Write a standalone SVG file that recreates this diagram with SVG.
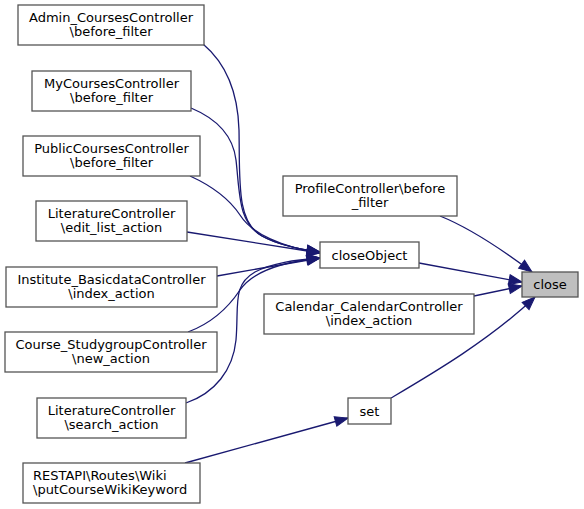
<svg xmlns="http://www.w3.org/2000/svg" width="584" height="509" viewBox="0 0 584 509">
<defs>
<style>
.n rect{fill:#fff;stroke:#555;stroke-width:1.3}
.n.cur rect{fill:#bfbfbf}
.n text{font-family:"DejaVu Sans",sans-serif;font-size:13px;fill:#000;text-anchor:middle}
.n text.l{text-anchor:start}
.e path{fill:none;stroke:#191970;stroke-width:1.3}
</style>
<marker id="ah" markerUnits="userSpaceOnUse" markerWidth="13" markerHeight="10" refX="13" refY="5" orient="auto" overflow="visible">
<path d="M0,0 L13,5 L0,10 z" fill="#191970" stroke="#191970" stroke-width="1"/>
</marker>
</defs>
<rect width="584" height="509" fill="#fff"/>
<g class="e" id="edges">
<path marker-end="url(#ah)" d="M203,44 C228,65 238,95 239,130 C240,180 236,222 262,236 C278,245 298,249 320,252"/>
<path marker-end="url(#ah)" d="M191,108 C215,118 233,135 236,160 C240,195 238,222 262,236 C278,245 298,249 320,252"/>
<path marker-end="url(#ah)" d="M190,176 C212,186 230,200 240,215 C252,234 282,247 320,253"/>
<path marker-end="url(#ah)" d="M187,232 L320,253"/>
<path marker-end="url(#ah)" d="M217,276 L320,258"/>
<path marker-end="url(#ah)" d="M188,332 C215,322 230,305 240,290 C252,272 282,262 320,258"/>
<path marker-end="url(#ah)" d="M186,403 C215,393 233,370 236,340 C239,305 232,285 255,272 C272,263 295,260 320,258"/>
<path marker-end="url(#ah)" d="M419,263 L522,282"/>
<path marker-end="url(#ah)" d="M440,216 C470,228 500,248 532,272"/>
<path marker-end="url(#ah)" d="M474,296 L522,286"/>
<path marker-end="url(#ah)" d="M391,398 C430,375 490,340 535,297"/>
<path marker-end="url(#ah)" d="M185,463 L348,418"/>
</g>
<g class="n" id="n_admin"><rect x="18" y="5" width="186" height="40"/><text x="111" y="21.5">Admin_CoursesController</text><text x="111" y="36">\before_filter</text></g>
<g class="n" id="n_mycourses"><rect x="32" y="71" width="159" height="40"/><text x="111.5" y="87.5">MyCoursesController</text><text x="111.5" y="102">\before_filter</text></g>
<g class="n" id="n_public"><rect x="23" y="136" width="177" height="40"/><text x="111.5" y="152.5">PublicCoursesController</text><text x="111.5" y="167">\before_filter</text></g>
<g class="n" id="n_litedit"><rect x="36" y="201" width="151" height="40"/><text x="111.5" y="217.5">LiteratureController</text><text x="111.5" y="232">\edit_list_action</text></g>
<g class="n" id="n_institute"><rect x="6" y="267" width="211" height="40"/><text x="111.5" y="283.5">Institute_BasicdataController</text><text x="111.5" y="298">\index_action</text></g>
<g class="n" id="n_studygroup"><rect x="5" y="332" width="212" height="40"/><text x="111" y="348.5">Course_StudygroupController</text><text x="111" y="363">\new_action</text></g>
<g class="n" id="n_litsearch"><rect x="37" y="398" width="149" height="40"/><text x="111.5" y="414.5">LiteratureController</text><text x="111.5" y="429">\search_action</text></g>
<g class="n" id="n_restapi"><rect x="23" y="463" width="177" height="40"/><text class="l" x="33" y="479.5">RESTAPI\Routes\Wiki</text><text class="l" x="33" y="494">\putCourseWikiKeyword</text></g>
<g class="n" id="n_profile"><rect x="283" y="176" width="174" height="40"/><text x="370" y="192.5">ProfileController\before</text><text x="370" y="207">_filter</text></g>
<g class="n" id="n_closeobject"><rect x="320" y="242" width="99" height="26"/><text x="369.5" y="259.5">closeObject</text></g>
<g class="n" id="n_calendar"><rect x="264" y="294" width="210" height="40"/><text x="369" y="310.5">Calendar_CalendarController</text><text x="369" y="325">\index_action</text></g>
<g class="n" id="n_set"><rect x="348" y="398" width="43" height="26"/><text x="369.5" y="415.5">set</text></g>
<g class="n cur" id="n_close"><rect x="522" y="272" width="56" height="25"/><text x="550" y="289">close</text></g>
</svg>
